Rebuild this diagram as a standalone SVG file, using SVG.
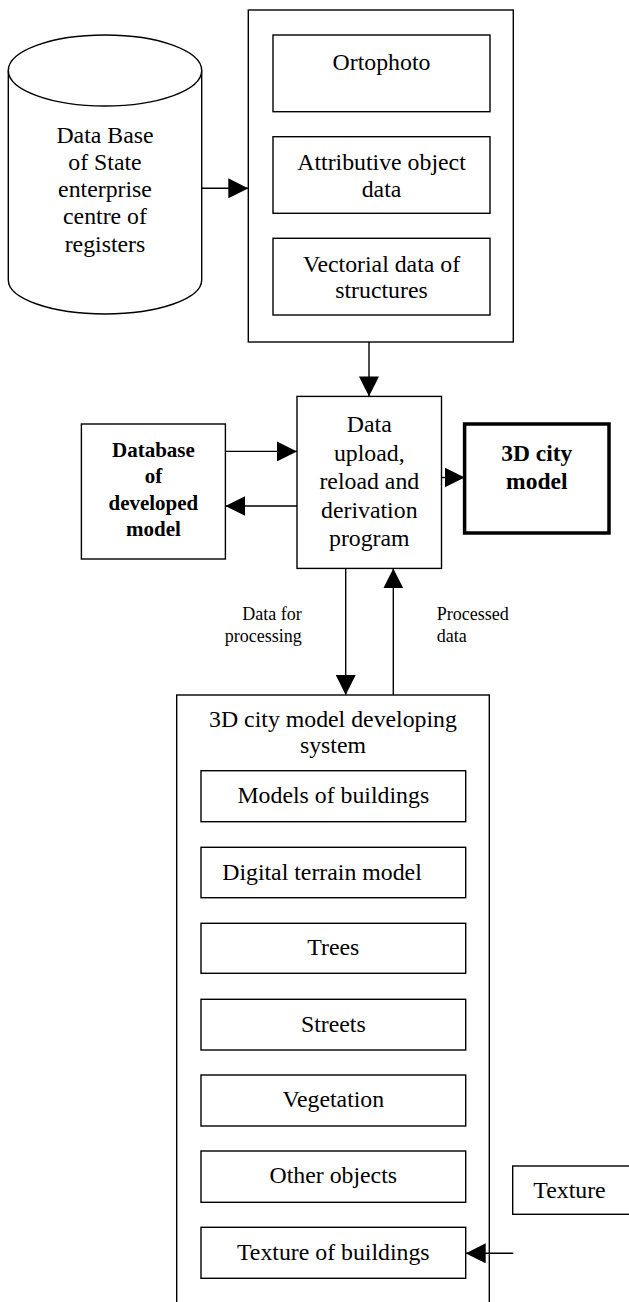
<svg xmlns="http://www.w3.org/2000/svg" width="629" height="1302" viewBox="0 0 629 1302">
<style>
.b{fill:#fff;stroke:#000;stroke-width:1.4}
.thick{fill:#fff;stroke:#000;stroke-width:3.5}
.t{font-size:23.8px;fill:#000;text-anchor:middle}
.bd{font-weight:bold;fill:#000;text-anchor:middle}
.s{font-size:18px;fill:#000}
.c{stroke:#000;stroke-width:1.4;fill:none;marker-end:url(#ah)}
</style>
<defs>
<marker id="ah" markerWidth="20" markerHeight="20" refX="20" refY="10" orient="auto" markerUnits="userSpaceOnUse">
<path d="M0,0 L20,10 L0,20 z" fill="#000"/>
</marker>
</defs>
<rect width="629" height="1302" fill="#fff"/>
<g font-family="'Liberation Serif', 'Times New Roman', 'DejaVu Serif', serif">

<g id="cylinder">
<path class="b" d="M8.3,70.5 L8.3,280 A96.7,34 0 0 0 201.7,280 L201.7,70.5"/>
<ellipse class="b" cx="105" cy="70.5" rx="96.7" ry="35.5"/>
<text class="t" x="105" y="142.5">Data Base</text>
<text class="t" x="105" y="169.8">of State</text>
<text class="t" x="105" y="197.1">enterprise</text>
<text class="t" x="105" y="224.4">centre of</text>
<text class="t" x="105" y="251.7">registers</text>
</g>

<g id="source-data">
<rect class="b" x="248.3" y="10" width="265" height="332"/>
<g id="ortophoto">
<rect class="b" x="273" y="35" width="217" height="76.7"/>
<text class="t" x="381.5" y="70">Ortophoto</text>
</g>
<g id="attributive">
<rect class="b" x="273" y="136.7" width="217" height="76.6"/>
<text class="t" x="381.5" y="170">Attributive object</text>
<text class="t" x="381.5" y="196.7">data</text>
</g>
<g id="vectorial">
<rect class="b" x="273" y="238.3" width="217" height="76.7"/>
<text class="t" x="381.5" y="271.7">Vectorial data of</text>
<text class="t" x="381.5" y="298.3">structures</text>
</g>
</g>

<g id="program">
<rect class="b" x="297" y="396.4" width="144.5" height="172"/>
<text class="t" x="369.3" y="432">Data</text>
<text class="t" x="369.3" y="460.5">upload,</text>
<text class="t" x="369.3" y="489">reload and</text>
<text class="t" x="369.3" y="517.5">derivation</text>
<text class="t" x="369.3" y="546">program</text>
</g>

<g id="database-model">
<rect class="b" x="81.4" y="424" width="144" height="135"/>
<text class="bd" font-size="21" x="153.4" y="457">Database</text>
<text class="bd" font-size="21" x="153.4" y="483">of</text>
<text class="bd" font-size="21" x="153.4" y="509.5">developed</text>
<text class="bd" font-size="21" x="153.4" y="536">model</text>
</g>

<g id="city-model">
<rect class="thick" x="464.6" y="424" width="144.4" height="109"/>
<text class="bd" font-size="23.5" x="536.8" y="460.7">3D city</text>
<text class="bd" font-size="23.5" x="536.8" y="489.3">model</text>
</g>

<g id="developing-system">
<rect class="b" x="176.7" y="695" width="312.6" height="640"/>
<text class="t" x="333" y="726.7">3D city model developing</text>
<text class="t" x="333" y="753.3">system</text>
<g id="models-buildings">
<rect class="b" x="201" y="770.7" width="264.7" height="51"/>
<text class="t" x="333.3" y="803.3">Models of buildings</text>
</g>
<g id="terrain">
<rect class="b" x="201" y="847.3" width="264.7" height="50.4"/>
<text class="t" x="322" y="880">Digital terrain model</text>
</g>
<g id="trees">
<rect class="b" x="201" y="923.3" width="264.7" height="50"/>
<text class="t" x="333.3" y="955">Trees</text>
</g>
<g id="streets">
<rect class="b" x="201" y="999.3" width="264.7" height="50.7"/>
<text class="t" x="333.3" y="1031.7">Streets</text>
</g>
<g id="vegetation">
<rect class="b" x="201" y="1075" width="264.7" height="51"/>
<text class="t" x="333.3" y="1106.7">Vegetation</text>
</g>
<g id="other-objects">
<rect class="b" x="201" y="1151" width="264.7" height="51.3"/>
<text class="t" x="333.3" y="1183.3">Other objects</text>
</g>
<g id="texture-buildings">
<rect class="b" x="201" y="1227.3" width="264.7" height="51"/>
<text class="t" x="333.3" y="1260">Texture of buildings</text>
</g>
</g>

<g id="texture">
<rect class="b" x="512.7" y="1166" width="130" height="48.3"/>
<text class="t" x="533.3" y="1198.3" style="text-anchor:start">Texture</text>
</g>

<g id="connectors">
<line class="c" x1="201.7" y1="188.3" x2="248.3" y2="188.3"/>
<line class="c" x1="369" y1="342" x2="369" y2="396.4"/>
<line class="c" x1="225.4" y1="451.4" x2="297" y2="451.4"/>
<line class="c" x1="297" y1="506" x2="225.4" y2="506"/>
<line class="c" x1="441.5" y1="477.5" x2="464.6" y2="477.5"/>
<line class="c" x1="345.7" y1="568.4" x2="345.7" y2="695"/>
<line class="c" x1="393.3" y1="695" x2="393.3" y2="568.4"/>
<line class="c" x1="513.3" y1="1253.3" x2="465.7" y2="1253.3"/>
<text class="s" x="301.7" y="620" text-anchor="end">Data for</text>
<text class="s" x="301.7" y="641.7" text-anchor="end">processing</text>
<text class="s" x="436.7" y="620">Processed</text>
<text class="s" x="436.7" y="641.7">data</text>
</g>
</g>
</svg>
